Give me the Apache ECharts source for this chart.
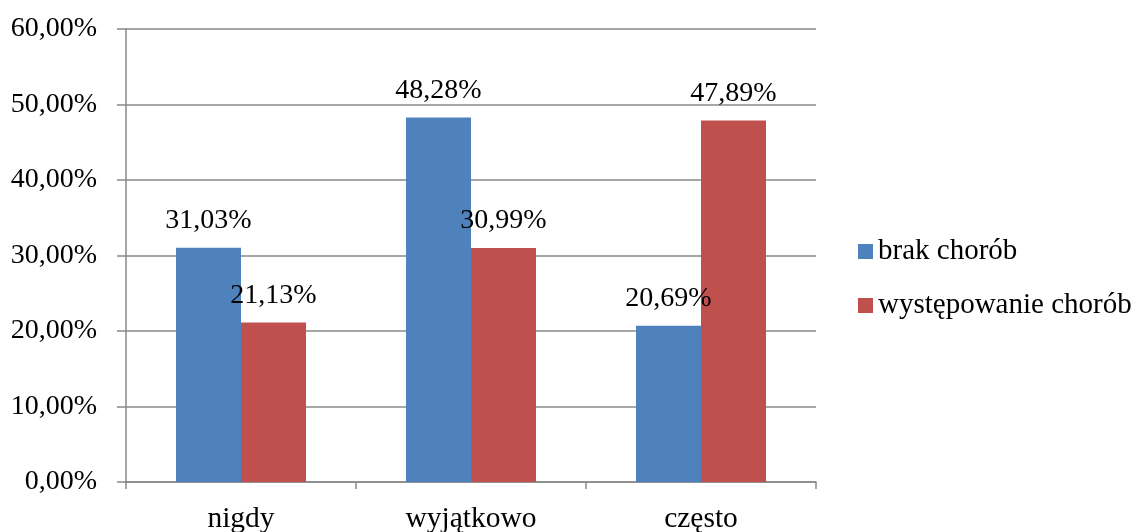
<!DOCTYPE html>
<html>
<head>
<meta charset="utf-8">
<script src="https://cdn.jsdelivr.net/npm/echarts@6/dist/echarts.min.js"></script>
<style>
  html, body { margin: 0; padding: 0; background: #ffffff; }
  #chart { width: 1139px; height: 532px; }
</style>
</head>
<body>
<div id="chart"></div>
<script>
// Frequency categories and the share of respondents in each group (%)
const categories = ['nigdy', 'wyjątkowo', 'często'];
const seriesNames = ['brak chorób', 'występowanie chorób'];
const brakChorob = [31.03, 48.28, 20.69];
const wystepowanieChorob = [21.13, 30.99, 47.89];

const FONT = "'Liberation Serif', 'Times New Roman', serif";
const GRID_GRAY = '#898989';

const pct = v => v.toFixed(2).replace('.', ',') + '%';

const chart = echarts.init(document.getElementById('chart'));

const labelStyle = {
  show: true,
  position: 'top',
  distance: 13,
  fontFamily: FONT,
  fontSize: 28,
  color: '#000000',
  formatter: p => pct(p.value)
};

chart.setOption({
  animation: false,
  backgroundColor: '#ffffff',
  grid: { left: 126, right: 323, top: 29, bottom: 50, outerBoundsMode: 'none', containLabel: false },
  legend: {
    orient: 'vertical',
    left: 858,
    top: 237,
    padding: 0,
    itemWidth: 15,
    itemHeight: 15,
    itemGap: 25,
    icon: 'rect',
    data: seriesNames,
    textStyle: { fontFamily: FONT, fontSize: 29, color: '#000000' }
  },
  xAxis: {
    type: 'category',
    data: categories,
    boundaryGap: true,
    axisLine: { lineStyle: { color: GRID_GRAY, width: 1.5 } },
    axisTick: { show: true, length: 7, lineStyle: { color: GRID_GRAY, width: 1.5 } },
    axisLabel: { margin: 22, fontFamily: FONT, fontSize: 29.5, color: '#000000' }
  },
  yAxis: {
    type: 'value',
    min: 0,
    max: 60,
    interval: 10,
    axisLine: { show: true, lineStyle: { color: GRID_GRAY, width: 1.5 } },
    axisTick: { show: true, length: 9, lineStyle: { color: GRID_GRAY, width: 1.5 } },
    splitLine: { show: true, lineStyle: { color: GRID_GRAY, width: 1.5 } },
    axisLabel: { margin: 29, fontFamily: FONT, fontSize: 28, color: '#000000', formatter: pct }
  },
  series: [
    {
      name: seriesNames[0],
      type: 'bar',
      data: brakChorob,
      barWidth: 65,
      barGap: '0%',
      itemStyle: { color: '#4F81BD' },
      label: labelStyle
    },
    {
      name: seriesNames[1],
      type: 'bar',
      data: wystepowanieChorob,
      barWidth: 65,
      barGap: '0%',
      itemStyle: { color: '#C0504D' },
      label: labelStyle
    }
  ]
});
</script>
</body>
</html>
